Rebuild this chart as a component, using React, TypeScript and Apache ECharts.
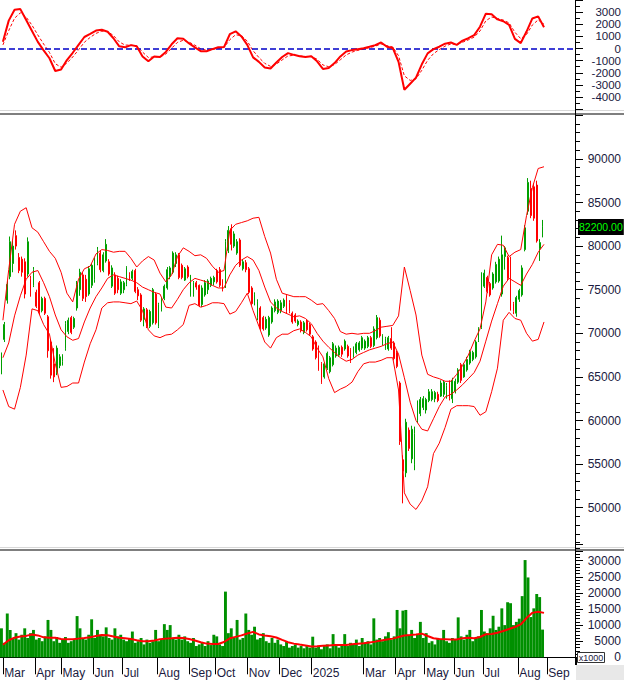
import React, { useEffect, useRef } from "react";
import * as echarts from "echarts";

// x axis: each slot = 2 trading days; indicator lines use 4-trading-day slots
const SLOTS = 198;
const IND_SLOTS = 99;

const monthStarts = [1, 12, 21, 32, 42, 54, 65, 74, 85, 96, 107, 125, 136, 146, 156, 166, 178, 188];
const monthLabels = ["Mar", "Apr", "May", "Jun", "Jul", "Aug", "Sep", "Oct", "Nov", "Dec", "2025", "Mar", "Apr", "May", "Jun", "Jul", "Aug", "Sep"];

// prices in thousands
const opens = [
  65.8, 69.3, 73.8, 76.5, 78, 81.2, 78.7, 78.5, 78.2, 76.8,
  76.3, 75.5, 74.7, 75.8, 72.6, 74, 71.9, 69, 66.5, 65.5,
  66.3, 66.8, 68.3, 70.2, 71.8, 70.7, 72.9, 75, 76.7, 76.2,
  74.5, 75.5, 76.2, 78, 79.2, 77.2, 78.3, 78.2, 75.4, 76.7,
  76.3, 74.6, 75, 75.6, 76.7, 76.3, 77.2, 75, 74.4, 71.6,
  72.7, 70.8, 71.2, 74.5, 70.8, 72.7, 74, 75.2, 76.5, 77,
  78, 79, 77.8, 76.1, 77.6, 74.3, 74.5, 75.8, 75.5, 73.3,
  74.4, 75, 75.5, 75.9, 77.2, 77.3, 76, 75.5, 79.5, 82,
  80, 79.2, 80.7, 77.4, 78.1, 77.4, 75.2, 73.5, 71.8, 72.9,
  71.8, 70.6, 69.8, 71.3, 72.6, 72.4, 72.6, 73.1, 74.3, 73.5,
  72.3, 72.1, 71, 71.3, 70.1, 71.4, 71, 69.6, 69, 68.4,
  66.5, 65, 66, 65.6, 66.4, 67.4, 67.5, 68.4, 68.2, 68.5,
  68.1, 67.4, 67.8, 68.1, 68.3, 68.3, 68.5, 69.5, 68.6, 69.5,
  71.5, 68.8, 68.3, 68.2, 69.4, 68.9, 67.8, 64.3, 55.5, 54,
  58.9, 55.6, 55, 60, 60.8, 61.5, 61.2, 62.3, 62.4, 62.5,
  63, 62.8, 63, 62.8, 64.4, 62.5, 63.3, 64.4, 66.4, 65,
  65.8, 66.6, 67, 67.3, 69.2, 70.7, 75.4, 76.4, 75.7, 75.2,
  75.9, 76, 74.5, 78.8, 78.7, 78.5, 73.4, 72.3, 73.9, 74.4,
  79.6, 84, 86.6, 86.8, 87, 79.7, 81.4,
];
const closes = [
  67.4, 71, 75.6, 80.5, 80, 80, 77.2, 77, 74.5, 80.5,
  74.4, 77.3, 73.1, 72.4, 74, 72.3, 68, 65.2, 65, 68.3,
  67.3, 67.4, 71.1, 71.5, 70.1, 71.7, 75.6, 77, 74, 74.2,
  77.4, 77.8, 78.5, 79.6, 77.3, 79, 80.2, 76.8, 77.5, 74.6,
  75, 75.9, 75.8, 77.5, 76.1, 77.1, 74.8, 74.3, 71.5, 72.8,
  70.8, 72.5, 75, 71.2, 73.3, 73.9, 75.4, 77.3, 77.5, 79.2,
  79, 76.4, 76.4, 77.4, 76.5, 76, 75.8, 75.3, 73.2, 75.2,
  75.8, 76, 76.3, 76.4, 75.9, 75.5, 75, 80.5, 81.8, 80.2,
  81.4, 80.5, 77.8, 78.2, 77.3, 74.7, 73.4, 74.4, 73.6, 70.6,
  70.5, 71.6, 71.8, 72.9, 73.6, 73.7, 73.5, 73.8, 72.5, 72.5,
  71.3, 71.4, 71.4, 70.3, 71.2, 70.4, 69.9, 68.2, 67.2, 65.9,
  64.4, 66.5, 67.7, 67.2, 68.8, 68.3, 68.4, 67.6, 69.1, 67.4,
  66.8, 68.3, 68.8, 68.9, 69.5, 69.1, 69.5, 68.5, 70.5, 71.8,
  69.7, 69.7, 69.4, 69.5, 68.3, 67.1, 66.2, 57.6, 54.2, 59.8,
  56.8, 59, 58.5, 62, 62.4, 62.5, 62.4, 63.3, 63.3, 63.2,
  62.3, 64.3, 64.4, 64, 62.5, 64.6, 64.5, 65.8, 64.6, 66.4,
  67, 67.9, 67.8, 69, 70.5, 76.8, 76.9, 74.8, 74.4, 76.8,
  77.9, 78.5, 79, 79.8, 76.3, 72.8, 72.5, 74.1, 74.9, 77.5,
  82.1, 87.3, 83.5, 83.2, 80.6, 80.4, 82.2,
];
const lows = [
  65.3, 69, 73.4, 76.2, 77, 79.6, 76.9, 76.5, 74, 76.5,
  74.2, 75.3, 72.9, 72.1, 72.4, 72.1, 67.2, 64.8, 64.4, 65.2,
  66, 66.3, 68, 69.9, 69.9, 70.5, 72.6, 74.3, 73.7, 73.6,
  74.3, 75.2, 75.8, 77.8, 77, 77, 78.1, 76.6, 75.2, 74.4,
  74.6, 74.4, 74.6, 75.4, 76, 76.1, 74.6, 73.8, 71.3, 70.8,
  70.6, 70.6, 71, 71, 70.6, 72.5, 73.8, 75, 76.2, 76.8,
  77.6, 76.2, 76.2, 76, 76.3, 74.2, 74.2, 75, 73, 73,
  74.2, 74.5, 75.3, 75.5, 75.7, 75.3, 74.8, 75.2, 79.2, 79.5,
  79.8, 79, 77.6, 77.2, 77, 74.5, 73.2, 73.2, 71.5, 70.4,
  70.3, 70.4, 69.6, 71.1, 72.4, 72.2, 72.3, 72.9, 72.3, 72.3,
  71.1, 71.2, 70.8, 70.1, 69.9, 70.2, 69.7, 68, 67, 65.7,
  64.2, 64.8, 65.8, 65.4, 66.2, 67.2, 67.3, 67.3, 68, 67.2,
  66.6, 67.2, 67.6, 67.9, 68.1, 68.1, 68.3, 68.3, 68.4, 69.3,
  69.5, 68.6, 68.1, 68, 68.1, 66.9, 66, 57.2, 50.5, 53.5,
  56.5, 55.1, 54.3, 59.7, 60.5, 61.2, 60.8, 62.1, 62.2, 62.1,
  62.1, 62.7, 62.7, 62.5, 62.3, 62, 63.1, 64.2, 64.3, 64.9,
  65.6, 66.4, 66.8, 67.1, 69, 70.5, 75.2, 74.6, 74.2, 75,
  75.7, 75.8, 74.2, 77.3, 76.1, 72.6, 72.2, 71.9, 73.6, 74.2,
  79.4, 83.6, 83.2, 82.9, 80.4, 78.3, 81,
];
const highs = [
  67.8, 71.3, 76, 81.1, 80.6, 81.8, 79.2, 78.8, 78.6, 81,
  76.6, 77.6, 75, 76, 74.2, 74.2, 72.1, 69.3, 68.3, 68.6,
  67.6, 67.6, 71.4, 71.8, 72, 71.9, 76, 77.4, 77, 76.7,
  77.7, 78, 78.7, 79.9, 79.5, 79.3, 80.8, 78.5, 77.8, 77,
  76.6, 76.2, 76, 77.7, 77, 77.3, 77.4, 75.3, 74.6, 73,
  72.9, 72.7, 75.2, 74.7, 73.5, 74.1, 75.6, 77.6, 77.7, 79.4,
  79.3, 79.2, 78, 77.6, 77.8, 76.7, 76, 76, 75.6, 75.5,
  76.1, 76.2, 76.5, 76.6, 77.4, 77.6, 76.2, 80.8, 82.3, 82.5,
  81.7, 80.8, 80.9, 78.5, 78.4, 77.6, 75.4, 74.7, 73.9, 73.1,
  72, 71.9, 72, 73.1, 73.9, 73.9, 73.8, 74, 74.5, 73.8,
  72.5, 72.3, 71.6, 71.5, 71.4, 71.6, 71.2, 69.8, 69.2, 68.6,
  66.7, 66.7, 67.9, 67.4, 69, 68.6, 68.6, 68.6, 69.3, 68.7,
  68.3, 68.5, 69, 69.1, 69.7, 69.3, 69.7, 69.7, 70.8, 72.1,
  71.8, 69.9, 69.6, 69.7, 70.7, 69.1, 68, 64.5, 56, 60.2,
  59.2, 59.4, 59.3, 62.3, 62.7, 62.8, 62.6, 63.6, 63.6, 63.4,
  63.3, 64.6, 64.6, 64.3, 64.6, 64.9, 64.8, 66, 66.6, 66.6,
  67.3, 68.1, 68, 69.2, 70.7, 77, 77.3, 76.6, 75.9, 77,
  78.2, 78.8, 81.2, 80, 78.9, 78.8, 73.6, 74.3, 75.1, 77.8,
  82.4, 87.8, 87.5, 87.2, 87.5, 80.8, 83,
];
// volume, x1000 shares
const volumes = [
  9000, 4500, 13600, 8500, 6000, 7500, 5500, 7000, 9000, 6000,
  7500, 8500, 5500, 6000, 5000, 6500, 11600, 8500, 5000, 6300,
  4500, 5500, 6300, 4500, 5000, 5500, 12800, 9000, 6000, 5500,
  7000, 11800, 6000, 8500, 7000, 6500, 9300, 6000, 5500, 9000,
  6500, 7000, 5500, 5000, 6000, 8000, 4500, 5000, 6000, 4000,
  5500, 4500, 5000, 8500, 5000, 5500, 10300, 8500, 10000, 6000,
  5500, 7000, 5500, 6500, 5000, 4500, 6000, 3500, 4000, 4500,
  3500, 5000, 3800, 7000, 6500, 4000, 3500, 20400, 7500, 9000,
  6000, 11600, 5500, 6000, 13600, 8500, 7000, 9500, 5500, 6000,
  7500, 5000, 4500, 6000, 4500, 5500, 4000, 3500, 5000, 3000,
  3500, 4000, 3000, 3500, 2800, 3500, 3000, 6400, 3000, 3500,
  2500, 3500, 4000, 2800, 7200, 3500, 3000, 4000, 7200, 3500,
  4500, 4000, 5500, 3500, 6000, 4500, 5000, 4000, 12100, 5500,
  6000, 5000, 6500, 7800, 5500, 6500, 14700, 9000, 14500, 14700,
  7000, 8500, 6000, 7000, 11000, 6000, 7500, 4500, 5000, 4000,
  6000, 5500, 8500, 5000, 4500, 6000, 5500, 12400, 6500, 5500,
  7000, 8500, 5000, 6000, 6500, 14700, 8000, 7500, 9000, 12900,
  8500, 9500, 15200, 10000, 17100, 16800, 10000, 11000, 12000, 19000,
  30200, 24800, 12500, 15200, 19650, 18700, 8600,
];

// Bollinger bands (thousands), 4-trading-day slots
const bbUpper = [
  71.5, 77.3, 82.5, 84.0, 84.4, 82.1, 81.6, 80.5, 79.4, 78.6,
  77.0, 74.6, 73.6, 76.2, 77.4, 77.7, 79.1, 79.6, 79.5, 79.3,
  79.4, 79.4, 78.6, 77.6, 78.3, 78.8, 78.4, 76.9, 75.9, 76.7,
  78.8, 79.8, 79.4, 78.9, 79.0, 78.6, 77.7, 77.0, 77.2, 81.8,
  82.5, 82.7, 82.9, 83.2, 83.3, 81.1, 79.2, 76.2, 74.6, 74.4,
  74.2, 74.2, 74.2, 73.8, 73.3, 73.4, 72.6, 71.7, 70.2, 69.9,
  70.0, 69.9, 70.0, 70.0, 70.3, 70.7, 70.8, 70.9, 72.0, 77.6,
  74.9, 72.1, 67.5, 65.3, 65.0, 64.8, 64.5, 64.5, 65.3, 66.3,
  67.5, 69.1, 70.5, 73.6, 79.0, 80.2, 80.1, 78.8, 79.3, 79.6,
  83.5, 86.7, 88.9, 89.1,
];
const bbMid = [
  67.2, 68.9, 72.0, 74.3, 76.2, 77.0, 77.2, 75.8, 74.2, 72.1,
  70.4, 69.6, 69.2, 69.4, 71.3, 72.9, 74.2, 75.2, 76.3, 76.7,
  76.5, 76.3, 76.1, 75.8, 75.3, 75.0, 74.7, 74.5, 73.0, 72.9,
  73.9, 75.0, 75.8, 76.3, 76.1, 75.9, 75.5, 75.2, 75.2, 76.7,
  77.8, 78.4, 78.8, 78.4, 77.2, 75.3, 73.6, 72.9, 72.5, 72.2,
  71.9, 72.0, 71.7, 71.1, 70.0, 69.1, 68.4, 67.8, 67.2, 66.8,
  67.0, 67.5, 67.8, 68.1, 68.3, 68.5, 68.8, 69.0, 67.6, 64.9,
  62.1, 60.0, 59.0, 58.8, 60.2, 61.6, 62.7, 63.0, 63.5, 64.1,
  64.8, 65.5, 66.8, 69.1, 71.4, 73.4, 75.4, 76.3, 75.9, 75.5,
  76.8, 77.9, 79.3, 80.2,
];
const bbLower = [
  63.5, 61.6, 61.3, 63.8, 67.5, 72.8, 72.6, 71.0, 69.9, 66.5,
  63.8, 63.9, 64.3, 64.3, 66.7, 68.8, 70.4, 72.9, 73.5, 73.6,
  73.6, 73.5, 73.4, 73.7, 72.6, 70.4, 69.7, 69.5, 69.8, 69.9,
  70.4, 71.0, 73.2, 73.4, 73.0, 73.2, 73.5, 73.5, 73.4, 72.2,
  72.5, 73.5, 74.6, 72.6, 70.8, 69.0, 68.3, 69.5, 69.9, 69.9,
  70.3, 70.5, 70.1, 69.6, 68.3, 67.3, 64.8, 63.2, 63.6, 63.9,
  64.4, 65.6, 66.5, 66.7, 66.7, 66.9, 67.2, 67.2, 63.5, 51.7,
  50.4, 49.8, 50.8, 52.4, 56.2, 57.4, 59.2, 61.3, 61.7, 61.7,
  61.7, 61.6, 60.6, 61.0, 63.3, 66.0, 71.5, 72.4, 71.7, 71.5,
  70.0, 69.1, 69.3, 71.3,
];

// MACD and signal, 4-trading-day slots
const macdLine = [
  550, 2300, 3200, 3250, 2350, 1450, 550, -150, -800, -1850,
  -1730, -950, -350, 300, 950, 1200, 1480, 1550, 1380, 850,
  180, 100, 280, 180, -650, -1050, -650, -700, -280, 350,
  850, 800, 420, 100, -220, -220, -50, 100, 120, 1180,
  1420, 1000, 300, -730, -1100, -1560, -1650, -1150, -700, -380,
  -520, -630, -700, -630, -1050, -1680, -1600, -1200, -650, -250,
  -130, -50, 30, 150, 280, 500, 150, 50, -1100, -3400,
  -2900, -2400, -1300, -400, -50, 150, 400, 500, 300, 650,
  850, 1100, 1800, 2870, 2820, 2400, 2250, 1950, 800, 450,
  1400, 2480, 2650, 1750,
];
const signalLine = [
  300, 1480, 2500, 2940, 2590, 1920, 1120, 370, -320, -1250,
  -1545, -1194, -696, -108, 516, 920, 1250, 1427, 1399, 1075,
  547, 283, 281, 221, -293, -740, -687, -695, -450, 22,
  510, 681, 527, 275, -17, -137, -86, 24, 81, 729,
  1137, 1056, 610, -180, -740, -1220, -1470, -1280, -940, -610,
  -558, -600, -659, -642, -883, -1353, -1499, -1323, -926, -527,
  -293, -150, -44, 70, 194, 375, 242, 129, -596, -2250,
  -2630, -2500, -1790, -970, -427, -87, 200, 377, 332, 520,
  715, 942, 1448, 2287, 2601, 2482, 2345, 2112, 1338, 814,
  1160, 1940, 2360, 2000,
];

// 20-day volume average, x1000 shares
const volumeMA = [
  3900, 5300, 6100, 6450, 6650, 7100, 6800, 6200, 6050, 6050,
  5700, 5600, 5600, 5800, 6000, 6250, 6600, 6900, 6850, 6450,
  6050, 5900, 5700, 5300, 5000, 4950, 5250, 5600, 5800, 5900,
  6100, 6000, 5700, 5200, 4650, 4250, 4130, 4130, 4750, 5900,
  6350, 6800, 7400, 7900, 7100, 6800, 6550, 6150, 5400, 4700,
  4250, 3950, 3700, 3350, 3400, 3550, 3700, 3820, 3820, 3850,
  4050, 4200, 4330, 4600, 4870, 5200, 5500, 5800, 6300, 6750,
  6900, 7100, 7350, 6600, 5900, 5720, 5640, 5500, 5550, 5950,
  6080, 5920, 6300, 7150, 7230, 7650, 8150, 8800, 9400, 10200,
  12200, 13800, 14150, 13800,
];

const FONT = "Liberation Sans";
const TEXT = "#1a1a40";
const UP = "#00a000";
const DOWN = "#ff0000";
const RED = "#ff0000";

export default function App() {
  const ref = useRef<HTMLDivElement>(null);

  useEffect(() => {
    document.body.style.margin = "0";
    if (!ref.current) return;
    const chart = echarts.init(ref.current, null, { renderer: "svg" });

    const cats = Array.from({ length: SLOTS }, (_, k) => String(k));
    const indCats = Array.from({ length: IND_SLOTS }, (_, k) => String(k));
    const k1000 = (v: number) => Math.round(v * 1000);
    const candles = opens.map((o, k) => [k1000(o), k1000(closes[k]), k1000(lows[k]), k1000(highs[k])]);
    const lastClose = k1000(closes[closes.length - 1]);

    const hiddenX = (gridIndex: number, data: string[]) => ({
      type: "category",
      gridIndex,
      data,
      show: false,
    });

    const yAxisBase = (gridIndex: number, min: number, max: number, interval: number, minorSplit: number) => ({
      type: "value",
      gridIndex,
      position: "right",
      min,
      max,
      interval,
      splitLine: { show: false },
      axisLine: { show: false },
      axisTick: { show: true, length: 7, lineStyle: { color: "#000", width: 1 } },
      minorTick: { show: true, splitNumber: minorSplit, length: 4, lineStyle: { color: "#000", width: 1 } },
      axisLabel: {
        show: true,
        align: "right",
        margin: 45,
        color: TEXT,
        fontFamily: FONT,
        fontSize: 12,
        lineHeight: 12,
        showMaxLabel: false,
        showMinLabel: false,
        formatter: (v: number) => String(v),
      },
    });

    const macdY: any = yAxisBase(0, -5000, 4000, 1000, 2);
    macdY.axisLabel = { ...macdY.axisLabel, fontSize: 11.5, lineHeight: 11 };
    const volY: any = yAxisBase(2, 0, 35000, 5000, 5);
    volY.axisLabel = { ...volY.axisLabel, showMinLabel: true };

    const option: any = {
      animation: false,
      backgroundColor: "#ffffff",
      grid: [
        { left: 0, right: 48, top: -7.8, height: 117 },
        { left: 0, right: 48, top: 115.3, height: 436 },
        { left: 0, right: 48, top: 544.6, height: 112.7 },
      ],
      xAxis: [
        hiddenX(0, cats),
        hiddenX(1, cats),
        {
          type: "category",
          gridIndex: 2,
          data: cats,
          offset: 7,
          axisLine: { show: true, lineStyle: { color: "#000", width: 1 } },
          axisTick: {
            show: true,
            length: 17,
            interval: (idx: number) => monthStarts.includes(idx),
            lineStyle: { color: "#000", width: 1 },
          },
          axisLabel: {
            show: true,
            interval: (idx: number) => monthStarts.includes(idx),
            formatter: (_v: string, idx: number) => {
              const m = monthStarts.indexOf(idx);
              return m >= 0 ? monthLabels[m] : "";
            },
            align: "left",
            margin: 3,
            color: TEXT,
            fontFamily: FONT,
            fontSize: 12,
          },
          splitLine: { show: false },
        },
        hiddenX(0, indCats),
        hiddenX(1, indCats),
        hiddenX(2, indCats),
      ],
      yAxis: [
        macdY,
        yAxisBase(1, 45000, 95000, 5000, 5),
        volY,
      ],
      series: [
        {
          name: "MACD",
          type: "line",
          xAxisIndex: 3,
          yAxisIndex: 0,
          data: macdLine,
          showSymbol: false,
          silent: true,
          lineStyle: { color: RED, width: 2 },
          z: 5,
          markLine: {
            silent: true,
            symbol: ["none", "none"],
            label: { show: false },
            lineStyle: { color: "#0000c8", type: [6, 3], width: 1.5 },
            data: [{ yAxis: 0 }],
          },
        },
        {
          name: "Signal",
          type: "line",
          xAxisIndex: 3,
          yAxisIndex: 0,
          data: signalLine,
          showSymbol: false,
          silent: true,
          lineStyle: { color: RED, width: 1, type: [3, 2] },
          z: 4,
        },
        {
          name: "Price",
          type: "candlestick",
          xAxisIndex: 1,
          yAxisIndex: 1,
          data: candles,
          barWidth: 1.4,
          silent: true,
          itemStyle: {
            color: UP,
            color0: DOWN,
            borderColor: UP,
            borderColor0: DOWN,
            borderWidth: 1,
          },
          markLine: {
            silent: true,
            symbol: ["none", "none"],
            lineStyle: { color: "rgba(0,0,0,0)", width: 0, opacity: 1 },
            label: {
              show: true,
              position: "end",
              distance: 2,
              formatter: () => lastClose.toFixed(2),
              backgroundColor: "#000000",
              color: "#00ff00",
              opacity: 1,
              fontFamily: FONT,
              fontSize: 10.5,
              lineHeight: 13,
              padding: [2, 1, 1, 1],
            },
            data: [{ yAxis: lastClose }],
          },
        },
        ...[bbUpper, bbMid, bbLower].map((arr, n) => ({
          name: ["BB upper", "BB mid", "BB lower"][n],
          type: "line",
          xAxisIndex: 4,
          yAxisIndex: 1,
          data: arr.map(k1000),
          showSymbol: false,
          silent: true,
          lineStyle: { color: RED, width: 1 },
          z: 3,
        })),
        {
          name: "Volume",
          type: "bar",
          xAxisIndex: 2,
          yAxisIndex: 2,
          data: volumes,
          barCategoryGap: "0%",
          silent: true,
          itemStyle: { color: "#009000" },
        },
        {
          name: "Volume MA",
          type: "line",
          xAxisIndex: 5,
          yAxisIndex: 2,
          data: volumeMA,
          showSymbol: false,
          silent: true,
          lineStyle: { color: RED, width: 2 },
          z: 5,
        },
      ],
      graphic: [
        { type: "rect", shape: { x: 0, y: 110, width: 624, height: 1 }, style: { fill: "#d8d8d8" }, z: 100, silent: true },
        { type: "rect", shape: { x: 0, y: 113, width: 624, height: 2 }, style: { fill: "#7f7f7f" }, z: 100, silent: true },
        { type: "rect", shape: { x: 0, y: 547, width: 624, height: 1 }, style: { fill: "#d8d8d8" }, z: 100, silent: true },
        { type: "rect", shape: { x: 0, y: 549, width: 624, height: 2 }, style: { fill: "#7f7f7f" }, z: 100, silent: true },
        { type: "rect", shape: { x: 576, y: 665, width: 48, height: 15 }, style: { fill: "#e8e8e8" }, z: 90, silent: true },
        { type: "line", shape: { x1: 575.5, y1: 0, x2: 575.5, y2: 665 }, style: { stroke: "#000", lineWidth: 1 }, z: 101, silent: true },
        { type: "rect", shape: { x: 577.5, y: 652.5, width: 27, height: 10 }, style: { fill: "#fff", stroke: "#333", lineWidth: 1 }, z: 102, silent: true },
        {
          type: "text",
          x: 591,
          y: 657.8,
          style: { text: "x1000", fontFamily: FONT, fontSize: 9, fill: TEXT, align: "center", verticalAlign: "middle" },
          z: 103,
          silent: true,
        },
      ],
    };

    chart.setOption(option);
    return () => chart.dispose();
  }, []);

  return <div ref={ref} style={{ position: "absolute", left: 0, top: 0, width: 624, height: 680 }} />;
}
